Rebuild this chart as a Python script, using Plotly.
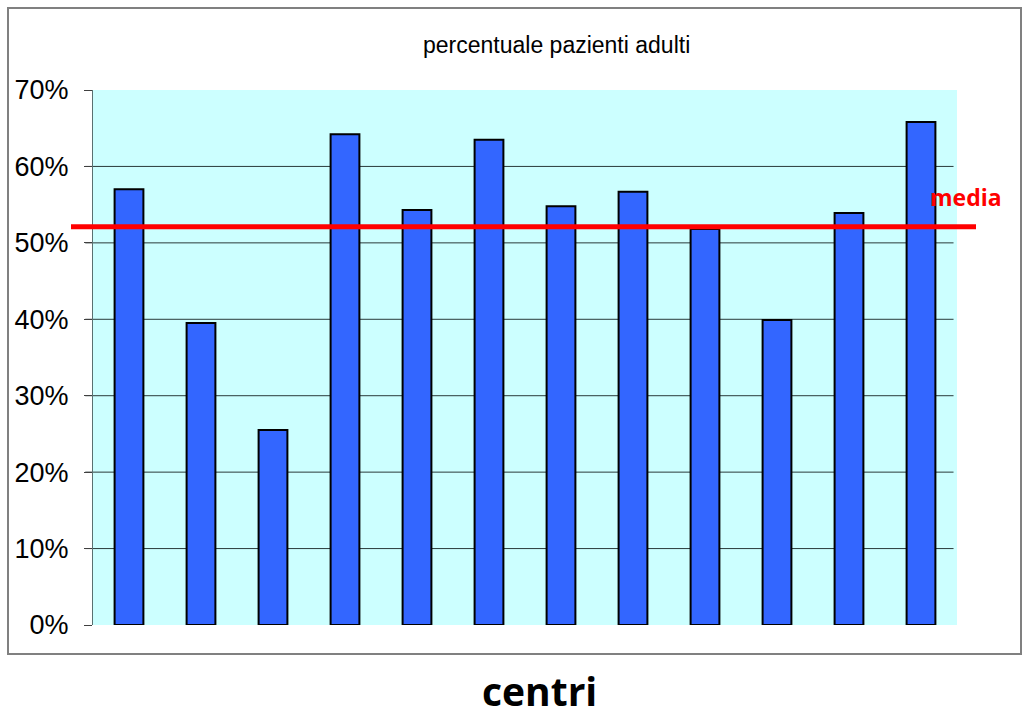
import plotly.graph_objects as go

# Percentage of adult patients per centre
centri = ["C1", "C2", "C3", "C4", "C5", "C6", "C7", "C8", "C9", "C10", "C11", "C12"]
percentuale = [57.0, 39.5, 25.5, 64.2, 54.3, 63.5, 54.8, 56.7, 51.8, 39.9, 53.9, 65.8]
media = 52.1
y_ticks = [0, 10, 20, 30, 40, 50, 60, 70]
y_tick_text = [f"{v}%" for v in y_ticks]

# plot-area geometry in pixels, used to place frame and labels in paper units
L, T, W, H = 93, 90, 864, 535


def px(x):
    return (x - L) / W


def py(y):
    return (T + H - y) / H


fig = go.Figure()
fig.add_trace(go.Bar(
    x=centri,
    y=percentuale,
    width=0.4,
    marker=dict(color="#3366FF", line=dict(color="#000000", width=2)),
    showlegend=False,
    hoverinfo="skip",
))

shapes = []
# horizontal gridlines (no line on the top edge)
for v in y_ticks[1:-1]:
    shapes.append(dict(type="line", xref="paper", yref="y", x0=-0.009, x1=0.996,
                       y0=v, y1=v, line=dict(color="#2a3a3a", width=1), layer="below"))
# average line
shapes.append(dict(type="line", xref="paper", yref="y", x0=px(71), x1=px(976),
                   y0=media, y1=media, line=dict(color="#FF0000", width=5), layer="above"))
# outer frame
shapes.append(dict(type="rect", xref="paper", yref="paper",
                   x0=px(8), x1=px(1021), y0=py(654), y1=py(8),
                   line=dict(color="#808080", width=2), fillcolor="rgba(0,0,0,0)", layer="below"))

fig.update_layout(
    width=1028, height=721,
    margin=dict(l=L, r=1028 - L - W, t=T, b=721 - T - H),
    paper_bgcolor="#FFFFFF",
    plot_bgcolor="#CCFFFF",
    shapes=shapes,
    bargap=0.6,
    font=dict(family="Liberation Sans, Arial, sans-serif", color="#000000"),
    xaxis=dict(showticklabels=False, showgrid=False, zeroline=False, showline=False,
               ticks="", fixedrange=True),
    yaxis=dict(range=[0, 70], tickvals=y_ticks, ticktext=y_tick_text,
               showgrid=False, zeroline=False, showline=True, linecolor="#5a7070", linewidth=1,
               ticks="outside", ticklen=8, tickcolor="#404040", tickwidth=1,
               ticklabelstandoff=10,
               tickfont=dict(size=27, family="Liberation Sans, Arial, sans-serif", color="#000000")),
    annotations=[
        dict(text="percentuale pazienti adulti", xref="paper", yref="paper",
             x=px(556), y=py(45), xanchor="center", yanchor="middle", showarrow=False,
             font=dict(size=23, family="Liberation Sans, Arial, sans-serif", color="#000000")),
        dict(text="<b>media</b>", xref="paper", yref="paper",
             x=px(966), y=py(197), xanchor="center", yanchor="middle", showarrow=False,
             font=dict(size=23, family="Open Sans, sans-serif", color="#FF0000")),
        dict(text="<b>centri</b>", xref="paper", yref="paper",
             x=px(539), y=py(690), xanchor="center", yanchor="middle", showarrow=False,
             font=dict(size=39, family="Open Sans, sans-serif", color="#000000")),
    ],
)

fig.write_html("out.html")
